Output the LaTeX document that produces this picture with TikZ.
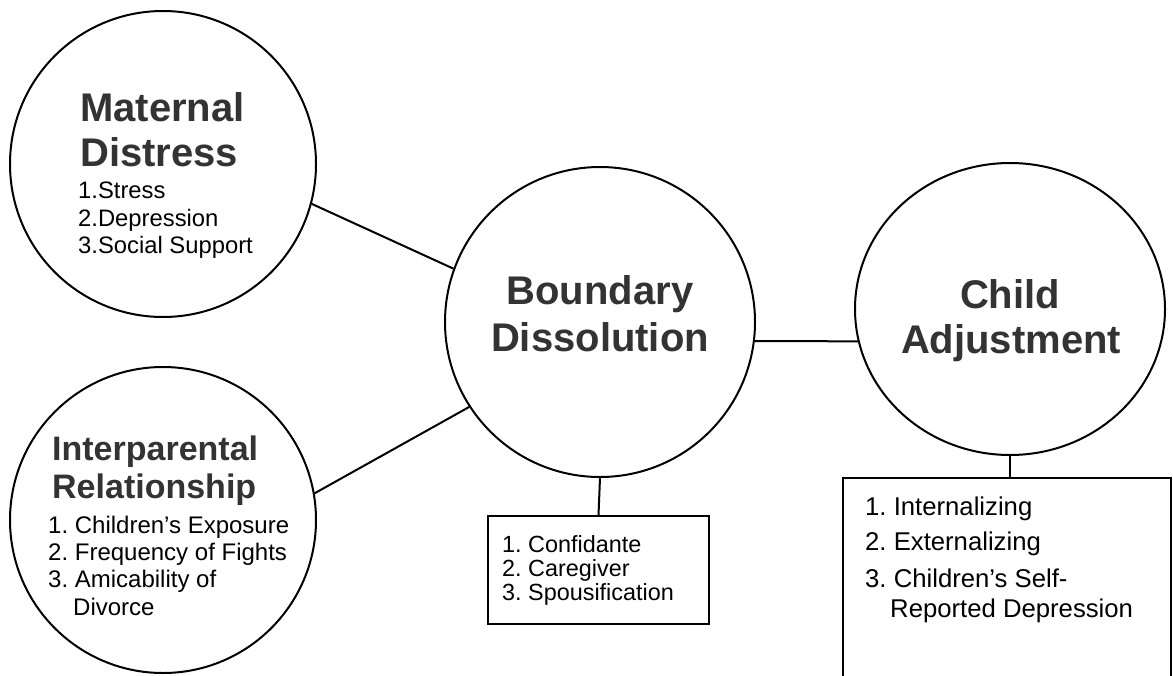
\documentclass[tikz,border=0pt]{standalone}
\usepackage{fontspec}
\setmainfont{Liberation Sans}
\usetikzlibrary{shapes.geometric}
\frenchspacing
\definecolor{titlegray}{gray}{0.2}
\tikzset{
  construct/.style={draw=black, line width=2pt, circle, inner sep=0pt},
  link/.style={draw=black, line width=2pt},
  listbox/.style={draw=black, line width=1.8pt, rectangle, inner sep=0pt},
  titletext/.style={inner sep=0pt, text=titlegray, font=\bfseries\fontsize{40}{40}\selectfont},
  smalltitle/.style={inner sep=0pt, text=titlegray, font=\bfseries\fontsize{34}{34}\selectfont},
  itemtext/.style={inner sep=0pt, anchor=base west, font=\fontsize{23.8}{24}\selectfont},
  itemtextb/.style={inner sep=0pt, anchor=base west, font=\fontsize{24}{24}\selectfont},
  itemtextd/.style={inner sep=0pt, anchor=base west, font=\fontsize{23.4}{24}\selectfont},
  itemtextc/.style={inner sep=0pt, anchor=base west, font=\fontsize{25.7}{26}\selectfont},
}
\begin{document}
\begin{tikzpicture}[x=1pt,y=-1pt]
\useasboundingbox (0,0) rectangle (1173,675);
\clip (0,0) rectangle (1173,675);
\fill[white] (0,0) rectangle (1173,675);

% circles
\node[construct, minimum size=306pt] (md) at (163,164) {};
\node[construct, minimum size=306pt] (ip) at (163,520) {};
\node[construct, minimum size=310pt] (bd) at (600,322) {};
\node[draw=black, line width=2pt, ellipse, inner sep=0pt, minimum width=310pt, minimum height=292pt] (ca) at (1010,309) {};

% boxes
\node[listbox, minimum width=221pt, minimum height=108pt] (bdbox) at (598.5,570) {};
\node[listbox, minimum width=328pt, minimum height=230pt] (cabox) at (1007,593) {};

% connectors
\draw[link] (md.-15) -- (bd.160.5);
\draw[link] (ip.10) -- (bd.213.2);
\draw[link] (bd.-7.8) -- (ca.192.7);
\draw[link] (bd.south) -- (bdbox.north);
\draw[link] (ca.south) -- (ca.south |- cabox.north);

% Maternal Distress
\node[titletext, anchor=base west] (mdt1) at (80,121) {Maternal};
\node[titletext, anchor=base west] (mdt2) at (80,166) {Distress};
\node[itemtext] (mdi1) at (78,198) {1.Stress};
\node[itemtext] (mdi2) at (78,226) {2.Depression};
\node[itemtext] (mdi3) at (78,253) {3.Social Support};

% Interparental Relationship
\node[smalltitle, anchor=base west] (ipt1) at (52,460) {Interparental};
\node[smalltitle, anchor=base west] (ipt2) at (52,498) {Relationship};
\node[itemtextb] (ipi1) at (48,533) {1. Children’s Exposure};
\node[itemtextb] (ipi2) at (48,560) {2. Frequency of Fights};
\node[itemtextb] (ipi3) at (48,587) {3. Amicability of};
\node[itemtextb] (ipi4) at (73,615) {Divorce};

% Boundary Dissolution
\node[titletext, anchor=base] (bdt1) at (600,304) {Boundary};
\node[titletext, anchor=base] (bdt2) at (600,351) {Dissolution};
\node[itemtextd] (bdi1) at (502,552) {1. Confidante};
\node[itemtextd] (bdi2) at (502,576) {2. Caregiver};
\node[itemtextd] (bdi3) at (502,600) {3. Spousification};

% Child Adjustment
\node[titletext, anchor=base] (cat1) at (1010,308) {Child};
\node[titletext, anchor=base] (cat2) at (1011,353) {Adjustment};
\node[itemtextc] (cai1) at (865,515) {1. Internalizing};
\node[itemtextc] (cai2) at (865,550) {2. Externalizing};
\node[itemtextc] (cai3) at (865,587) {3. Children’s Self-};
\node[itemtextc] (cai4) at (890,617) {Reported Depression};
\end{tikzpicture}
\end{document}
